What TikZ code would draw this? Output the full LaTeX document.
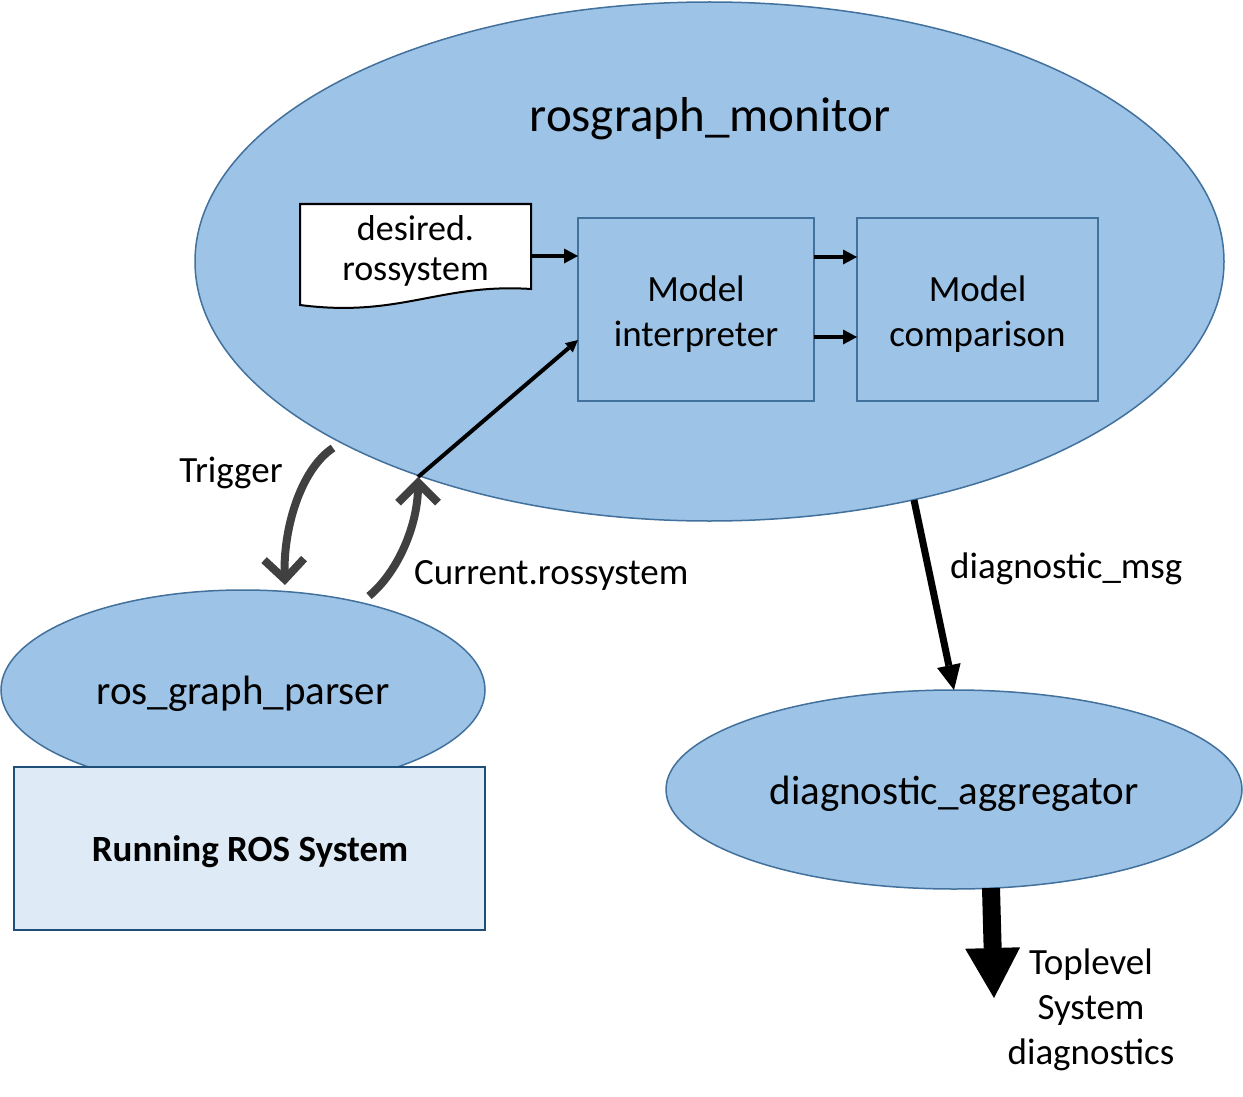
\documentclass[tikz,border=0pt]{standalone}
\usepackage{fontspec}
\setmainfont{Carlito}
\usetikzlibrary{shapes.geometric,arrows.meta,calc}
\definecolor{blfill}{HTML}{9DC3E6}
\definecolor{bldraw}{HTML}{41719C}
\definecolor{rectfill}{HTML}{DEEBF7}
\definecolor{rectdraw}{HTML}{1F4E79}
\definecolor{curvecol}{HTML}{404040}
\tikzset{
  blob/.style={ellipse, fill=blfill, draw=bldraw, line width=1.5pt, inner sep=0pt, outer sep=0pt, font=\fontsize{41}{49}\selectfont},
  modbox/.style={rectangle, fill=blfill, draw=bldraw, line width=2pt, inner sep=0pt, outer sep=0pt},
  boxtext/.style={inner sep=0pt, align=center, font=\fontsize{37}{45}\selectfont},
  lbl/.style={inner sep=0pt, font=\fontsize{37}{45}\selectfont},
  smallarrow/.style={line width=4.5pt, -{Triangle[length=14pt,width=15pt,line width=0pt]}},
  curvearrow/.style={draw=curvecol, line width=8pt, -{Straight Barb[length=20pt,width=40pt]}},
  msgarrow/.style={line width=7pt, -{Triangle[length=25pt,width=24pt,line width=0pt]}},
  bigarrow/.style={line width=18pt, -{Triangle[length=50pt,width=55pt,line width=0pt]}}
}
\begin{document}
\begin{tikzpicture}[x=1pt,y=-1pt]
\useasboundingbox (0,0) rectangle (1243,1097);
\fill[white] (0,0) rectangle (1243,1097);

% main monitor ellipse
\node[blob, minimum width=1029pt, minimum height=519pt] (mon) at (709.5,261.5) {};
\node[inner sep=0pt, font=\fontsize{49}{59}\selectfont] (title) at (710,119) {rosgraph\_monitor};

% desired.rossystem document
\draw[line width=2pt, fill=white] (300,204) -- (531,204) -- (531,289)
  .. controls (440,283) and (400,318) .. (300,305) -- cycle;
\node[minimum width=231pt, minimum height=86pt, inner sep=0pt, outer sep=0pt] (doc) at (415.5,247) {};
\node[inner sep=0pt, align=center, font=\fontsize{36}{40}\selectfont] (doctext) at (415.5,251) {desired.\\rossystem};

% model boxes
\node[modbox, minimum width=236pt, minimum height=183pt] (interp) at (696,309.5) {};
\node[boxtext] (interptext) at (696,314) {Model\\interpreter};
\node[modbox, minimum width=241pt, minimum height=183pt] (comp) at (977.5,309.5) {};
\node[boxtext] (comptext) at (977.5,314) {Model\\comparison};

\coordinate (ya) at (0,256);
\coordinate (yb) at (0,257);
\coordinate (yc) at (0,337);
\coordinate (yd) at (0,340);
\draw[smallarrow] (doc.east |- ya) -- (interp.west |- ya);
\draw[smallarrow] (interp.east |- yb) -- (comp.west |- yb);
\draw[smallarrow] (interp.east |- yc) -- (comp.west |- yc);

\coordinate (cin) at (418,477);
\draw[line width=4pt, -{Triangle[length=12pt,width=12pt,line width=0pt]}] (cin) -- (interp.west |- yd);

% ros_graph_parser and running system
\node[blob, minimum width=484pt, minimum height=200pt] (parser) at (243,690) {};
\node[rectangle, fill=rectfill, draw=rectdraw, line width=2pt, minimum width=471pt, minimum height=163pt,
  inner sep=0pt] (ros) at (249.5,848.5) {};
\node[inner sep=0pt, font=\bfseries\fontsize{37}{45}\selectfont] (rostext) at (250,852) {Running ROS System};
\node[inner sep=0pt, font=\fontsize{41}{49}\selectfont] (parserlbl) at (243,694) {ros\_graph\_parser};

% curved arrows
\coordinate (trs) at (333,448);
\coordinate (tre) at (285,585);
\draw[curvearrow] (trs) .. controls (300,470) and (283,530) .. (tre);
\coordinate (cus) at (369,596);
\draw[curvearrow] (cus) .. controls (398,572) and (418,525) .. (cin);

\node[lbl] (trig) at (231,473) {Trigger};
\node[lbl, anchor=west] (curl) at (414,575) {Current.rossystem};

% diagnostic aggregator
\node[blob, minimum width=576pt, minimum height=199pt] (diag) at (954,789.5) {};
\node[inner sep=0pt, font=\fontsize{41}{49}\selectfont] (diaglbl) at (954,793.5) {diagnostic\_aggregator};
\coordinate (dms) at (914,500);
\draw[msgarrow] (dms) -- (diag.north);
\node[lbl, anchor=west] (dml) at (950,569) {diagnostic\_msg};

\coordinate (thk) at (991,888);
\coordinate (thkend) at (994,998);
\draw[bigarrow] (thk) -- (thkend);
\node[lbl, align=center] (toplbl) at (1091,1010) {Toplevel\\System\\diagnostics};
\end{tikzpicture}
\end{document}
